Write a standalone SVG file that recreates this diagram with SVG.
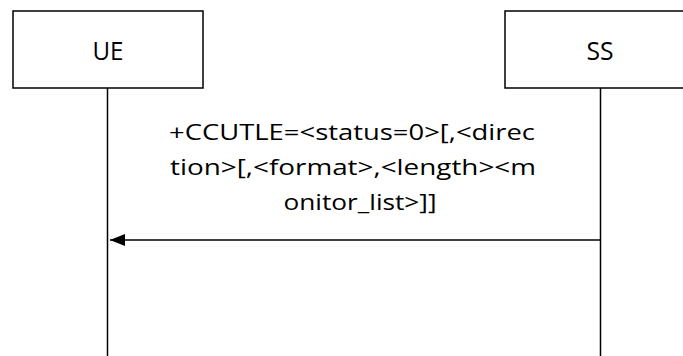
<svg xmlns="http://www.w3.org/2000/svg" width="683" height="356" viewBox="0 0 683 356">
<style>
.box{fill:#fff;stroke:#000;stroke-width:1.5}
.life{stroke:#000;stroke-width:1.5;fill:none}
.t{font-family:"Open Sans","Liberation Sans",Arial,sans-serif;font-size:22.5px;fill:#000;text-anchor:middle}
.n{font-size:26px}
</style>
<defs>
<marker id="ah" markerWidth="16" markerHeight="12" refX="15" refY="6" orient="auto" markerUnits="userSpaceOnUse">
<path d="M0,0 L15,6 L0,12 Z" fill="#000"/>
</marker>
</defs>
<rect width="683" height="356" fill="#fff"/>
<g id="UE">
<rect class="box" x="13" y="11" width="190" height="77"/>
<text class="t n" x="108" y="60" textLength="31" lengthAdjust="spacingAndGlyphs">UE</text>
</g>
<g id="SS">
<rect class="box" x="505" y="11" width="190" height="77"/>
<text class="t n" x="600" y="60" textLength="27" lengthAdjust="spacingAndGlyphs">SS</text>
</g>
<g id="connectors">
<line class="life" x1="107.5" y1="88" x2="107.5" y2="356"/>
<line class="life" x1="600.5" y1="88" x2="600.5" y2="356"/>
<line class="life" x1="600" y1="240" x2="110" y2="240" marker-end="url(#ah)"/>
<text class="t" x="352" y="140" textLength="366" lengthAdjust="spacingAndGlyphs">+CCUTLE=&lt;status=0&gt;[,&lt;direc</text>
<text class="t" x="353" y="175" textLength="366" lengthAdjust="spacingAndGlyphs">tion&gt;[,&lt;format&gt;,&lt;length&gt;&lt;m</text>
<text class="t" x="360" y="210" textLength="153" lengthAdjust="spacingAndGlyphs">onitor_list&gt;]]</text>
</g>
</svg>
